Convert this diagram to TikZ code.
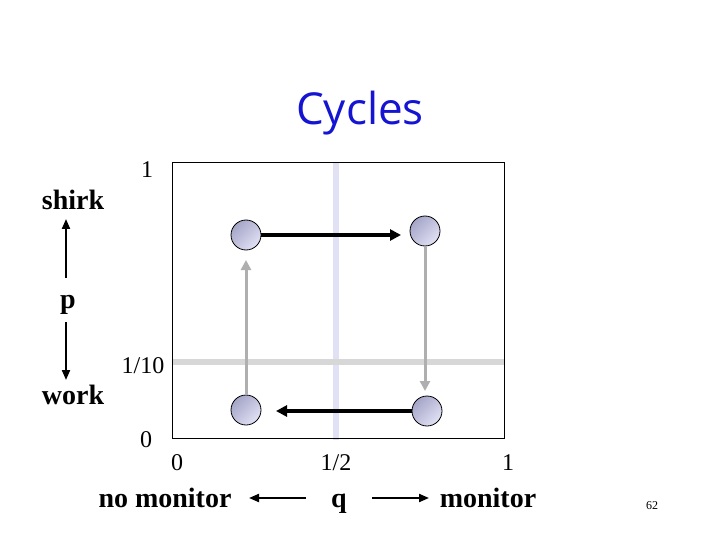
\documentclass[tikz,border=0pt]{standalone}
\usepackage{fontspec}
\setmainfont{Liberation Serif}
\newfontfamily\titlefont{Open Sans}
\usetikzlibrary{arrows.meta}
\definecolor{titleblue}{RGB}{20,20,210}
\definecolor{bandv}{RGB}{225,225,245}
\definecolor{bandh}{RGB}{215,215,215}
\definecolor{arrgray}{RGB}{175,175,175}
\definecolor{ballA}{RGB}{225,225,245}
\definecolor{ballB}{RGB}{165,165,200}
\tikzset{
  ball/.style={circle,draw=black,line width=0.8pt,minimum size=30pt,inner sep=0pt,
    shading=axis,left color=ballB,right color=ballA,shading angle=45},
  num/.style={font=\fontsize{24}{28}\selectfont},
  lab/.style={font=\fontsize{28}{32}\selectfont\bfseries,anchor=base},
  blk/.style={line width=3.5pt,-{Triangle[length=11pt,width=11pt]}},
  gry/.style={arrgray,line width=3pt,-{Triangle[length=10pt,width=10pt]}},
  thinarr/.style={line width=2pt,-{Triangle[length=10pt,width=8pt]}}
}
\begin{document}
\begin{tikzpicture}[x=1pt,y=-1pt]
\useasboundingbox[fill=white] (0,0) rectangle (720,540);
\node[text=titleblue,font=\titlefont\fontsize{44}{48}\selectfont] (title) at (360,113) {Cycles};
% bands
\fill[bandv] (333,162) rectangle (339,440);
\fill[bandh] (172,359) rectangle (504,365);
\draw[line width=0.8pt] (172,162) rectangle (504,438);
% balls
\node[ball] (tl) at (246,235) {};
\node[ball] (tr) at (425,231) {};
\node[ball] (bl) at (246,410) {};
\node[ball] (br) at (427,411) {};
\coordinate (tlr) at (261,235);
\coordinate (trl) at (401,235);
\draw[blk] (tlr) -- (trl);
\coordinate (tra) at (425,247);
\coordinate (trb) at (425,391);
\draw[gry] (tra) -- (trb);
\coordinate (brl) at (412,411);
\coordinate (blr) at (276,411);
\draw[blk] (brl) -- (blr);
\coordinate (bla) at (246,395);
\coordinate (blb) at (246,260);
\draw[gry] (bla) -- (blb);
% axis labels
\node[num] (y1) at (147,170) {1};
\node[num] (y110) at (143,366) {1/10};
\node[num] (y0) at (146,440) {0};
\node[num] (x0) at (177,463) {0};
\node[num] (x12) at (336,463) {1/2};
\node[num] (x1) at (508,463) {1};
% left labels
\node[lab] (shirk) at (73,210) {shirk};
\node[lab] (p) at (68,308) {p};
\node[lab] (work) at (73,404) {work};
\coordinate (pu) at (66,278);
\coordinate (pu2) at (66,219);
\coordinate (pd) at (66,322);
\coordinate (pd2) at (66,380);
\draw[thinarr] (pu) -- (pu2);
\draw[thinarr] (pd) -- (pd2);
% bottom labels
\node[lab] (nomon) at (165,507) {no monitor};
\node[lab] (q) at (339,507) {q};
\node[lab] (mon) at (488,507) {monitor};
\coordinate (ql) at (306,498);
\coordinate (qll) at (249,498);
\coordinate (qr) at (372,498);
\coordinate (qrr) at (429,498);
\draw[thinarr] (ql) -- (qll);
\draw[thinarr] (qr) -- (qrr);
\node[font=\fontsize{12}{14}\selectfont] (pg) at (652,506) {62};
\end{tikzpicture}
\end{document}
